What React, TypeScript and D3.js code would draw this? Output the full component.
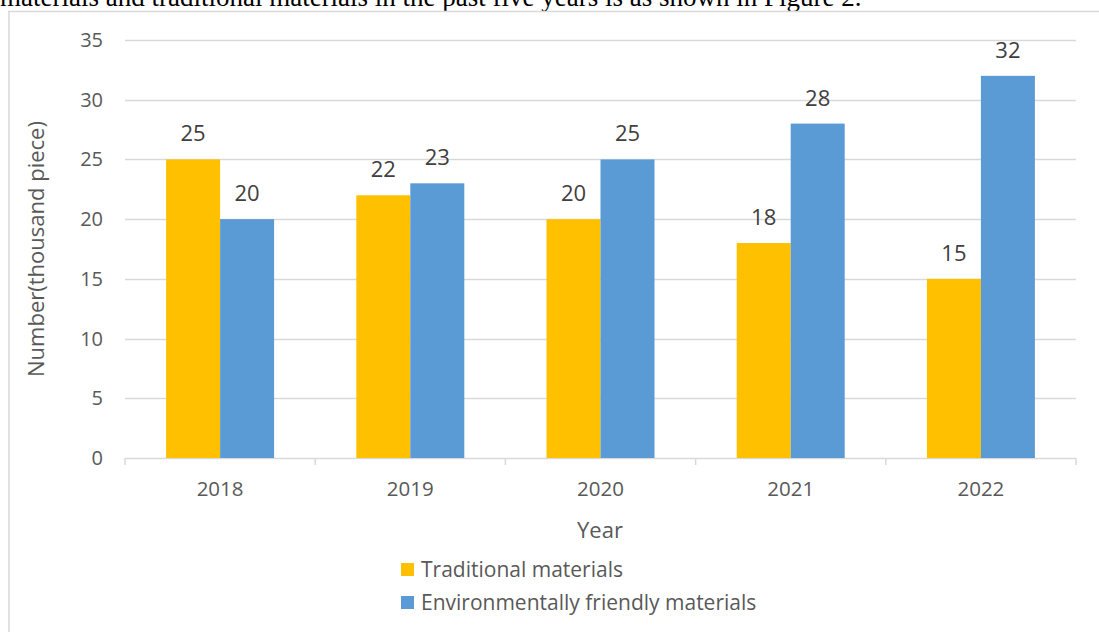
import React from "react";
import * as d3 from "d3";

const categories = ["2018", "2019", "2020", "2021", "2022"];
const seriesNames = ["Traditional materials", "Environmentally friendly materials"];
const traditional = [25, 22, 20, 18, 15];
const friendly = [20, 23, 25, 28, 32];
const yTicks = [0, 5, 10, 15, 20, 25, 30, 35];
const colors = ["#FFC000", "#5B9BD5"];

const W = 1099;
const H = 632;
const FONT = "'Open Sans', 'Noto Sans', sans-serif";

export default function App() {
  const x0 = d3.scaleBand().domain(categories).range([125, 1076]).paddingInner(0).paddingOuter(0);
  const y = d3.scaleLinear().domain([0, 35]).range([458, 40]);
  const barW = 54;
  const series = [traditional, friendly];

  return (
    <svg width={W} height={H} style={{ position: "absolute", left: 0, top: 0, background: "#fff" }}>
      <text x={0} y={6} fontFamily="'Liberation Serif', 'Times New Roman', serif" fontSize={27} fill="#000">
        materials and traditional materials in the past five years is as shown in Figure 2.
      </text>
      <line x1={9} y1={11} x2={9} y2={H} stroke="#D9D9D9" strokeWidth={1.5} />
      <line x1={8} y1={11.5} x2={W} y2={11.5} stroke="#D9D9D9" strokeWidth={1.5} />
      {yTicks.map((t) => (
        <g key={t}>
          {t > 0 && (
            <line x1={125} x2={1076} y1={Math.round(y(t)) + 0.5} y2={Math.round(y(t)) + 0.5} stroke="#D9D9D9" strokeWidth={1.5} />
          )}
          <text x={103} y={y(t)} dy="0.35em" textAnchor="end" fontFamily={FONT} fontSize={20} fill="#595959">
            {t}
          </text>
        </g>
      ))}
      <line x1={125} x2={1076} y1={458.5} y2={458.5} stroke="#D9D9D9" strokeWidth={1.5} />
      {categories.map((c, i) => (
        <line key={"t" + i} x1={x0(c)!} x2={x0(c)!} y1={458} y2={465} stroke="#D9D9D9" strokeWidth={1.5} />
      ))}
      <line x1={1076} x2={1076} y1={458} y2={465} stroke="#D9D9D9" strokeWidth={1.5} />
      {categories.map((c, i) => {
        const cx = x0(c)! + x0.bandwidth() / 2;
        return (
          <g key={c}>
            {series.map((s, si) => {
              const bx = cx - barW + si * barW;
              return (
                <g key={si}>
                  <rect x={bx} y={y(s[i])} width={barW} height={y(0) - y(s[i])} fill={colors[si]} />
                  <text x={bx + barW / 2} y={y(s[i]) - 18} textAnchor="middle" fontFamily={FONT} fontSize={22} fill="#404040">
                    {s[i]}
                  </text>
                </g>
              );
            })}
            <text x={cx} y={496} textAnchor="middle" fontFamily={FONT} fontSize={20.5} fill="#595959">
              {c}
            </text>
          </g>
        );
      })}
      <text x={600} y={538} textAnchor="middle" fontFamily={FONT} fontSize={22} fill="#595959">
        Year
      </text>
      <text
        transform={`translate(44, ${y(17.5)}) rotate(-90)`}
        textAnchor="middle"
        fontFamily={FONT}
        fontSize={22}
        fill="#595959"
      >
        Number(thousand piece)
      </text>
      {seriesNames.map((n, i) => (
        <g key={n}>
          <rect x={401} y={563 + i * 33} width={13} height={13} fill={colors[i]} />
          <text x={421} y={570 + i * 33} dy="0.35em" fontFamily={FONT} fontSize={21} fill="#595959">
            {n}
          </text>
        </g>
      ))}
    </svg>
  );
}
